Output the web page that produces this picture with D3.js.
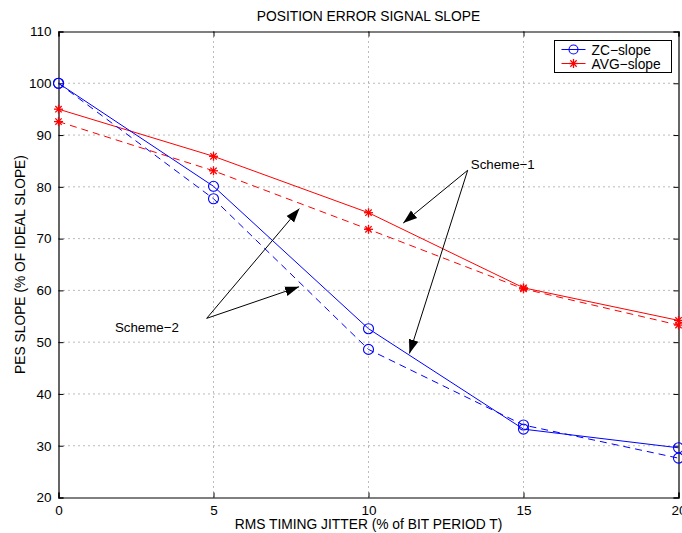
<!DOCTYPE html>
<html>
<head>
<meta charset="utf-8">
<script src="https://d3js.org/d3.v7.min.js"></script>
<style>
  body { margin: 0; background: #fff; }
  svg { font-family: "Liberation Sans", Arial, sans-serif; display: block; }
</style>
</head>
<body>
<div id="chart"></div>
<script>
// jitter values (% of bit period)
var jitter = [0, 5, 10, 15, 20];

// ZC-slope, scheme-1 (solid) and scheme-2 (dashed)
var zcSolid = [100, 80.1, 52.6, 33.2, 29.6];
var zcDashed = [100, 77.7, 48.6, 34.0, 27.6];

// AVG-slope
var avgSolid = [95.0, 85.9, 75.0, 60.5, 54.2];
var avgDashed = [92.6, 83.1, 71.8, 60.3, 53.3];

var xTicks = [0, 5, 10, 15, 20];
var yTicks = [20, 30, 40, 50, 60, 70, 80, 90, 100, 110];

// annotations in data units: text, anchor of arrows, arrow tips
var notes = [
    { label: "Scheme\u22121", tx: 13.3, ty: 83.5, ox: 13.2, oy: 83.2, tips: [[11.12, 73.0], [11.32, 47.8]] },
    { label: "Scheme\u22122", tx: 1.82, ty: 52.0, ox: 4.78, oy: 54.6, tips: [[7.77, 75.8], [7.76, 60.7]] }
];

var W = 682, H = 533;
var pLeft = 58.5, pRight = 678.5, pTop = 31.5, pBottom = 497.5;

var svg = d3.select("#chart").append("svg")
    .attr("width", W)
    .attr("height", H);

var x = d3.scaleLinear().domain([0, 20]).range([pLeft, pRight]);
var y = d3.scaleLinear().domain([20, 110]).range([pBottom, pTop]);

// grid
var grid = svg.append("g");
grid.selectAll(".vg").data(xTicks.slice(1, -1)).enter().append("line")
    .attr("x1", d => x(d)).attr("x2", d => x(d))
    .attr("y1", pTop).attr("y2", pBottom)
    .attr("stroke", "#555").attr("stroke-width", 0.8)
    .attr("stroke-dasharray", "1,4");
grid.selectAll(".hg").data(yTicks.slice(1, -1)).enter().append("line")
    .attr("x1", pLeft).attr("x2", pRight)
    .attr("y1", d => y(d)).attr("y2", d => y(d))
    .attr("stroke", "#555").attr("stroke-width", 0.8)
    .attr("stroke-dasharray", "1,4");

// axes (ticks inward, box)
svg.append("g").attr("transform", "translate(0," + pBottom + ")")
    .call(d3.axisBottom(x).tickValues(xTicks).tickSize(-5).tickPadding(8).tickFormat(d3.format("d")));
svg.append("g").attr("transform", "translate(0," + pTop + ")")
    .call(d3.axisTop(x).tickValues(xTicks).tickSize(-5).tickFormat(""));
svg.append("g").attr("transform", "translate(" + pLeft + ",0)")
    .call(d3.axisLeft(y).tickValues(yTicks).tickSize(-5).tickPadding(7).tickFormat(d3.format("d")));
svg.append("g").attr("transform", "translate(" + pRight + ",0)")
    .call(d3.axisRight(y).tickValues(yTicks).tickSize(-5).tickFormat(""));

svg.selectAll(".domain").attr("stroke", "#000").attr("stroke-width", 1.2);
svg.selectAll(".tick line").attr("stroke", "#000");
svg.selectAll(".tick text").attr("font-size", 13.5).attr("fill", "#000")
    .attr("font-family", "Liberation Sans, Arial, sans-serif");

var line = d3.line()
    .x((d, i) => x(jitter[i]))
    .y(d => y(d));

var series = [
    { vals: avgSolid, color: "#ff0000", dash: null, mark: "star" },
    { vals: avgDashed, color: "#ff0000", dash: "7,5", mark: "star" },
    { vals: zcSolid, color: "#0000ff", dash: null, mark: "circle" },
    { vals: zcDashed, color: "#0000ff", dash: "7,5", mark: "circle" }
];

function drawStar(g, cx, cy, color) {
    var r = 4.5;
    [0, 45, 90, 135].forEach(a => {
        var rad = a * Math.PI / 180;
        g.append("line")
            .attr("x1", cx - r * Math.cos(rad)).attr("y1", cy - r * Math.sin(rad))
            .attr("x2", cx + r * Math.cos(rad)).attr("y2", cy + r * Math.sin(rad))
            .attr("stroke", color).attr("stroke-width", 1.3);
    });
}

series.forEach(s => {
    svg.append("path")
        .attr("d", line(s.vals))
        .attr("fill", "none")
        .attr("stroke", s.color)
        .attr("stroke-width", 1)
        .attr("stroke-dasharray", s.dash);
    var mg = svg.append("g");
    s.vals.forEach((v, i) => {
        if (s.mark == "circle") {
            mg.append("circle")
                .attr("cx", x(jitter[i])).attr("cy", y(v)).attr("r", 5)
                .attr("fill", "none").attr("stroke", s.color).attr("stroke-width", 1.1);
        } else {
            drawStar(mg, x(jitter[i]), y(v), s.color);
        }
    });
});

// arrows
svg.append("defs").append("marker")
    .attr("id", "head")
    .attr("viewBox", "0 0 10 10")
    .attr("refX", 10).attr("refY", 5)
    .attr("markerWidth", 14).attr("markerHeight", 14)
    .attr("markerUnits", "userSpaceOnUse")
    .attr("orient", "auto")
    .append("path")
    .attr("d", "M0,1.5 L10,5 L0,8.5 Z")
    .attr("fill", "#000");

notes.forEach(n => {
    n.tips.forEach(t => {
        svg.append("line")
            .attr("x1", x(n.ox)).attr("y1", y(n.oy))
            .attr("x2", x(t[0])).attr("y2", y(t[1]))
            .attr("stroke", "#000").attr("stroke-width", 1)
            .attr("marker-end", "url(#head)");
    });
    svg.append("text")
        .attr("x", x(n.tx)).attr("y", y(n.ty))
        .attr("font-size", 13.3)
        .text(n.label);
});

// legend
var lg = svg.append("g").attr("transform", "translate(554.5,40.5)");
lg.append("rect").attr("width", 117).attr("height", 32)
    .attr("fill", "#fff").attr("stroke", "#000").attr("stroke-width", 1);
var legendItems = [
    { name: "ZC\u2212slope", color: "#0000ff", mark: "circle" },
    { name: "AVG\u2212slope", color: "#ff0000", mark: "star" }
];
legendItems.forEach((d, i) => {
    var yy = 9 + i * 14;
    lg.append("line").attr("x1", 7).attr("x2", 31).attr("y1", yy).attr("y2", yy)
        .attr("stroke", d.color).attr("stroke-width", 1);
    if (d.mark == "circle") {
        lg.append("circle").attr("cx", 19).attr("cy", yy).attr("r", 4.5)
            .attr("fill", "none").attr("stroke", d.color).attr("stroke-width", 1.1);
    } else {
        drawStar(lg, 19, yy, d.color);
    }
    lg.append("text").attr("x", 37).attr("y", yy + 5)
        .attr("font-size", 13.8).text(d.name);
});

// titles
svg.append("text")
    .attr("x", (pLeft + pRight) / 2).attr("y", 21)
    .attr("text-anchor", "middle").attr("font-size", 13.8)
    .text("POSITION ERROR SIGNAL SLOPE");
svg.append("text")
    .attr("x", (pLeft + pRight) / 2).attr("y", 529)
    .attr("text-anchor", "middle").attr("font-size", 13.8)
    .text("RMS TIMING JITTER (% of BIT PERIOD T)");
svg.append("text")
    .attr("transform", "translate(25," + ((pTop + pBottom) / 2) + ") rotate(-90)")
    .attr("text-anchor", "middle").attr("font-size", 13.8)
    .text("PES SLOPE (% OF IDEAL SLOPE)");
</script>
</body>
</html>
